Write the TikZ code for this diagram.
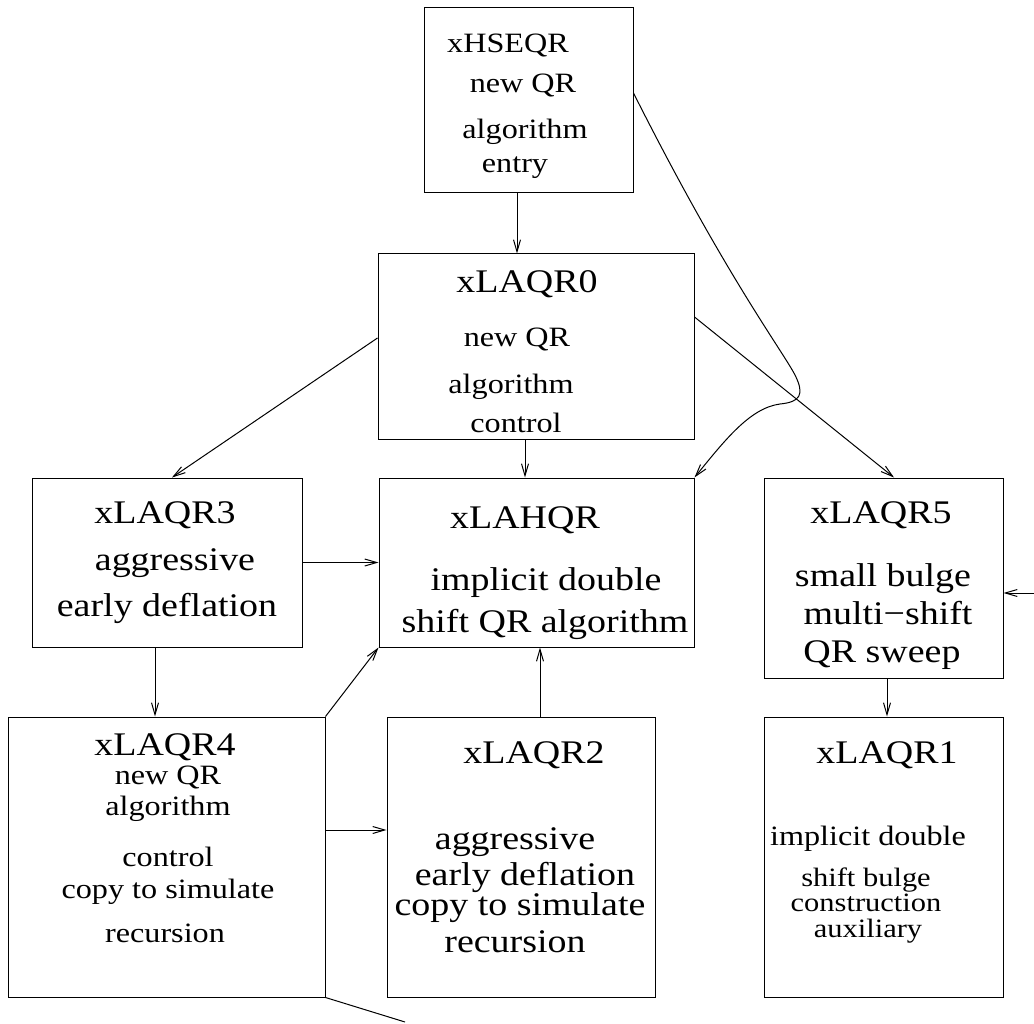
\documentclass[tikz,border=0pt]{standalone}
\usepackage{fontspec}
\setmainfont{Liberation Serif}[FakeStretch=1.15]
\usepackage{tikz}
\usetikzlibrary{arrows.meta,calc}

\tikzset{
  box/.style={draw, line width=1pt, inner sep=0pt},
  bigtxt/.style={font=\fontsize{33}{38}\selectfont, anchor=base, inner sep=0pt},
  smalltxt/.style={font=\fontsize{28}{32}\selectfont, anchor=base, inner sep=0pt},
  tighttxt/.style={font=\fontsize{26.5}{30}\selectfont, anchor=base, inner sep=0pt},
  link/.style={line width=1pt, -{Straight Barb[length=12pt,width=7pt]}},
  plainlink/.style={line width=1pt}
}

\begin{document}
\begin{tikzpicture}[x=1pt, y=-1pt]
    \useasboundingbox (0,0) rectangle (1034,1024);

    \node[box, minimum width=209pt, minimum height=185pt] (hseqr) at (528.5,100.5) {};
    \node[box, minimum width=316pt, minimum height=185pt] (laqr0) at (536,346.5) {};
    \node[box, minimum width=270pt, minimum height=169pt] (laqr3) at (167,562.5) {};
    \node[box, minimum width=315pt, minimum height=169pt] (lahqr) at (536.5,562.5) {};
    \node[box, minimum width=239pt, minimum height=200pt] (laqr5) at (883.5,578) {};
    \node[box, minimum width=317pt, minimum height=280pt] (laqr4) at (166.5,857) {};
    \node[box, minimum width=268pt, minimum height=280pt] (laqr2) at (521,857) {};
    \node[box, minimum width=239pt, minimum height=280pt] (laqr1) at (883.5,857) {};

    \node[smalltxt] (hseqrA) at (508,53) {xHSEQR};
    \node[smalltxt] (hseqrB) at (523,93) {new QR};
    \node[smalltxt] (hseqrC) at (525,139) {algorithm};
    \node[smalltxt] (hseqrD) at (515,173) {entry};

    \node[bigtxt] (laqrzA) at (527,293) {xLAQR0};
    \node[smalltxt] (laqrzB) at (517,347) {new QR};
    \node[smalltxt] (laqrzC) at (511,393) {algorithm};
    \node[smalltxt] (laqrzD) at (516,432) {control};

    \node[bigtxt] (laqrtA) at (165,523) {xLAQR3};
    \node[bigtxt] (laqrtB) at (175,570) {aggressive};
    \node[bigtxt] (laqrtC) at (167,616) {early deflation};

    \node[bigtxt] (lahqrA) at (525,528) {xLAHQR};
    \node[bigtxt] (lahqrB) at (546,590) {implicit double};
    \node[bigtxt] (lahqrC) at (545,632) {shift QR algorithm};

    \node[bigtxt] (laqrfA) at (881,523) {xLAQR5};
    \node[bigtxt] (laqrfB) at (883,586) {small bulge};
    \node[bigtxt] (laqrfC) at (888,624) {multi−shift};
    \node[bigtxt] (laqrfD) at (882,662) {QR sweep};

    \node[bigtxt] (laqrqA) at (165,755) {xLAQR4};
    \node[smalltxt] (laqrqB) at (168,784) {new QR};
    \node[smalltxt] (laqrqC) at (168,815) {algorithm};
    \node[smalltxt] (laqrqD) at (168,866) {control};
    \node[smalltxt] (laqrqE) at (168,898) {copy to simulate};
    \node[smalltxt] (laqrqF) at (165,942) {recursion};

    \node[bigtxt] (laqrwA) at (534,763) {xLAQR2};
    \node[bigtxt] (laqrwB) at (515,849) {aggressive};
    \node[bigtxt] (laqrwC) at (525,885) {early deflation};
    \node[bigtxt] (laqrwD) at (520,915) {copy to simulate};
    \node[bigtxt] (laqrwE) at (515,952) {recursion};

    \node[bigtxt] (laqroA) at (887,763) {xLAQR1};
    \node[smalltxt] (laqroB) at (868,845) {implicit double};
    \node[tighttxt] (laqroC) at (866,886) {shift bulge};
    \node[tighttxt] (laqroD) at (866,911) {construction};
    \node[tighttxt] (laqroE) at (868,937) {auxiliary};

    \coordinate (rin) at (1034,593);
    \coordinate (bout) at (405,1022);

    \draw[link] ([xshift=-11.5pt]hseqr.south) -- ([xshift=-11.5pt]hseqr.south |- laqr0.north);
    \draw[link] ([yshift=8.5pt]laqr0.west) -- ([xshift=5pt]laqr3.north);
    \draw[link] ([xshift=-11pt]laqr0.south) -- ([xshift=-11pt]laqr0.south |- lahqr.north);
    \draw[link] ([yshift=29.5pt]laqr0.east) -- ([xshift=10.5pt]laqr5.north);
    \draw[link] ([yshift=7.5pt]hseqr.east) .. controls (725,275) and (782,350) .. (795,375)
        .. controls (805,395) and (800,402) .. (780,404)
        .. controls (750,408) and (725,440) .. (lahqr.north east);
    \draw[link] (laqr3.east) -- (lahqr.west);
    \draw[link] ([xshift=-12pt]laqr3.south) -- ([xshift=-12pt]laqr3.south |- laqr4.north);
    \draw[link] (laqr4.north east) -- (lahqr.south west);
    \draw[link] ([yshift=27pt]laqr4.east) -- ([yshift=27pt]laqr4.east -| laqr2.west);
    \draw[link] ([xshift=19pt]laqr2.north) -- ([xshift=19pt]laqr2.north |- lahqr.south);
    \draw[link] ([xshift=3.5pt]laqr5.south) -- ([xshift=3.5pt]laqr5.south |- laqr1.north);
    \draw[link] (rin) -- (rin -| laqr5.east);
    \draw[plainlink] (laqr4.south east) -- (bout);

\end{tikzpicture}
\end{document}
